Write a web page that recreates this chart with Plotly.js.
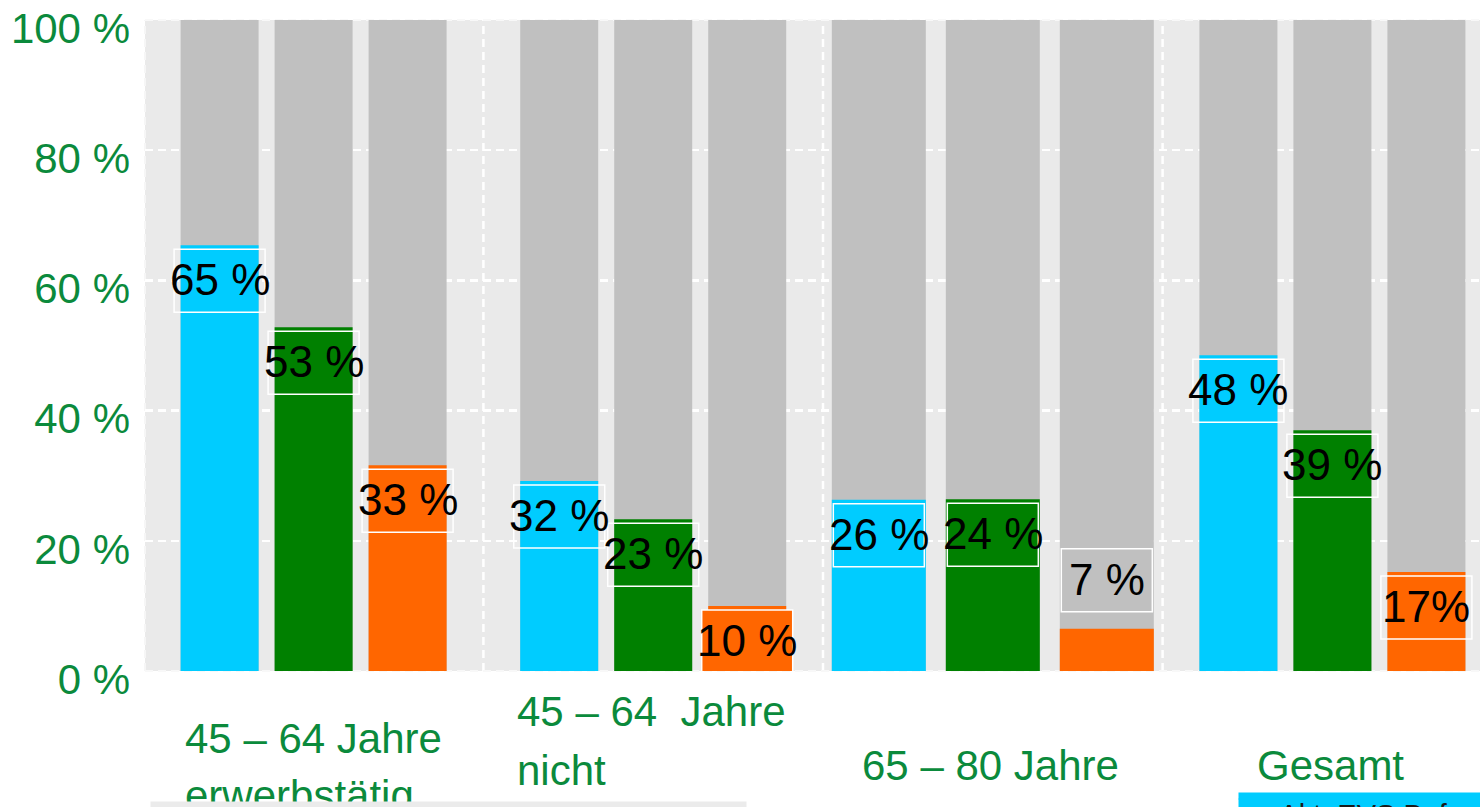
<!DOCTYPE html>
<html>
<head>
<meta charset="utf-8">
<script src="https://cdn.plot.ly/plotly-3.0.1.min.js"></script>
<style>
html,body{margin:0;padding:0;overflow:hidden;background:#ffffff;}
#chart{width:1480px;height:807px;}
</style>
</head>
<body>
<div id="chart"></div>
<script>
// ---- data ----
const categories = ['45 – 64 Jahre erwerbstätig', '45 – 64 Jahre nicht erwerbstätig', '65 – 80 Jahre', 'Gesamt'];
const seriesBlue = [65.4, 29.2, 26.3, 48.5];
const seriesGreen = [52.8, 23.3, 26.4, 37.0];
const seriesOrange = [31.6, 10.0, 6.5, 15.2];
const totalValues = [100, 100, 100, 100];
const labelsBlue = ['65 %', '32 %', '26 %', '48 %'];
const labelsGreen = ['53 %', '23 %', '24 %', '39 %'];
const labelsOrange = ['33 %', '10 %', '7 %', '17%'];
const tickValues = [0, 20, 40, 60, 80, 100];
const tickLabels = ['0 %', '20 %', '40 %', '60 %', '80 %', '100 %'];
const categoryLines = [['45 – 64 Jahre', 'erwerbstätig'], ['45 – 64  Jahre', 'nicht'], ['65 – 80 Jahre'], ['Gesamt']];
const footerText = 'Akt. EVS Befragung';

// ---- layout helpers ----
const W = 1480, H = 807;
const M = {l: 145, r: 0, t: 20, b: 136};
const PX_PER_UNIT = 339.6;
const xr0 = -0.4965, xr1 = xr0 + (W - M.l - M.r) / PX_PER_UNIT;
const px = p => p / PX_PER_UNIT;
const paperX = p => (p - M.l) / (W - M.l - M.r);
const paperY = p => (H - M.b - p) / (H - M.t - M.b);

const BLUE = '#00CCFF', GREEN = '#008000', ORANGE = '#FF6600', GREY = '#C0C0C0';
const TEXTGREEN = '#0B8A3C';
const FONT = 'Liberation Sans, Arial, Helvetica, sans-serif';
const DASH = '8px,5px';

// bar geometry per group (group 3 drawn wider in the original)
const barW = categories.map((c, i) => i === 2 ? px(94) : px(78));
const step = categories.map((c, i) => i === 2 ? px(114) : px(94));
const offsets = [
  barW.map((w, i) => -step[i] - w / 2),
  barW.map((w, i) => -w / 2),
  barW.map((w, i) => step[i] - w / 2)
];

const seriesVals = [seriesBlue, seriesGreen, seriesOrange];
const seriesLabels = [labelsBlue, labelsGreen, labelsOrange];
const colors = [BLUE, GREEN, ORANGE];
const names = ['Serie 1', 'Serie 2', 'Serie 3'];

const traces = [];
for (let s = 0; s < 3; s++) {
  traces.push({
    type: 'bar', x: categories, y: totalValues, offset: offsets[s], width: barW,
    marker: {color: GREY}, hoverinfo: 'skip', showlegend: false
  });
}
for (let s = 0; s < 3; s++) {
  traces.push({
    type: 'bar', x: categories, y: seriesVals[s], offset: offsets[s], width: barW,
    marker: {color: colors[s]}, name: names[s], showlegend: false
  });
}

const annotations = [];
const shapes = [];

// grid separators and dashed frame
[0.5, 1.5, 2.5].forEach(xv => shapes.push({
  type: 'line', xref: 'x', yref: 'paper', x0: xv, x1: xv, y0: 0, y1: 1, layer: 'below',
  line: {color: '#ffffff', width: 2.5, dash: DASH}
}));
shapes.push({type: 'line', xref: 'paper', yref: 'paper', x0: 0, x1: 0, y0: 0, y1: 1, layer: 'below',
  line: {color: '#F6F6F6', width: 2, dash: DASH}});
[0, 1].forEach(yv => shapes.push({type: 'line', xref: 'paper', yref: 'paper', x0: 0, x1: 1, y0: yv, y1: yv,
  layer: 'below', line: {color: '#F8F8F8', width: 2, dash: DASH}}));

// value labels: white framed boxes (shapes) + text (annotations)
const BOX_W = 91, BOX_H = 63;
for (let s = 0; s < 3; s++) {
  seriesVals[s].forEach((v, i) => {
    const above = v < 8;
    const cx = i + offsets[s][i] + barW[i] / 2;
    const top = above ? 17 + BOX_H : -4;           // pixel offset of box top from bar top
    shapes.push({
      type: 'rect', layer: 'above',
      xref: 'x', xsizemode: 'pixel', xanchor: cx, x0: -BOX_W / 2, x1: BOX_W / 2,
      yref: 'y', ysizemode: 'pixel', yanchor: v, y0: top - BOX_H, y1: top,
      line: {color: '#ffffff', width: 1.5},
      fillcolor: (s === 2 && i === 1) ? ORANGE : 'rgba(0,0,0,0)'
    });
    annotations.push({
      xref: 'x', yref: 'y', x: cx, y: v, yshift: top - BOX_H / 2 + 1,
      text: seriesLabels[s][i], showarrow: false, xanchor: 'center', yanchor: 'middle',
      font: {family: FONT, size: 44, color: '#000000'}
    });
  });
}

// category labels
const catPos = [[183, [738, 795]], [515, [712, 770]], [860, [765]], [1255, [765]]];
categoryLines.forEach((lines, i) => {
  lines.forEach((t, j) => {
    annotations.push({
      xref: 'paper', yref: 'paper', x: paperX(catPos[i][0]), y: paperY(catPos[i][1][j]),
      xanchor: 'left', yanchor: 'middle', text: t, showarrow: false,
      font: {family: FONT, size: 42, color: TEXTGREEN}
    });
  });
});
// light band at bottom left
annotations.push({
  xref: 'paper', yref: 'paper', x: paperX(150), y: paperY(801), xanchor: 'left', yanchor: 'top',
  width: 595, height: 12, borderpad: 0, text: ' ', showarrow: false, bgcolor: '#EBEBEB',
  font: {size: 4}
});
// blue footer box at bottom right
annotations.push({
  xref: 'paper', yref: 'paper', x: paperX(1238), y: paperY(792), xanchor: 'left', yanchor: 'top',
  width: 260, height: 44, borderpad: 0, text: '&nbsp;&nbsp;&nbsp;&nbsp;&nbsp;' + footerText, showarrow: false,
  align: 'left', valign: 'top', bgcolor: BLUE, yshift: -6,
  font: {family: FONT, size: 29, color: '#1a1a1a'}
});
annotations.push({
  xref: 'paper', yref: 'paper', x: paperX(1238), y: paperY(792), xanchor: 'left', yanchor: 'top',
  width: 250, height: 6, borderpad: 0, text: ' ', showarrow: false, bgcolor: BLUE, font: {size: 4}
});

const layout = {
  width: W, height: H,
  margin: M,
  paper_bgcolor: '#ffffff', plot_bgcolor: '#EAEAEA',
  barmode: 'overlay', showlegend: false,
  xaxis: {type: 'category', range: [xr0, xr1], showticklabels: false, showgrid: false,
          zeroline: false, showline: false, ticks: '', fixedrange: true},
  yaxis: {range: [0, 100], tickvals: tickValues, ticktext: tickLabels, showgrid: true,
          gridcolor: '#ffffff', gridwidth: 2.5, griddash: DASH, zeroline: false, showline: false,
          ticks: '', ticklabelstandoff: 14, ticklabelshift: 8,
          tickfont: {family: FONT, size: 42, color: TEXTGREEN}, fixedrange: true},
  annotations: annotations,
  shapes: shapes,
  font: {family: FONT}
};

Plotly.newPlot('chart', traces, layout, {displayModeBar: false, staticPlot: true});
</script>
</body>
</html>
